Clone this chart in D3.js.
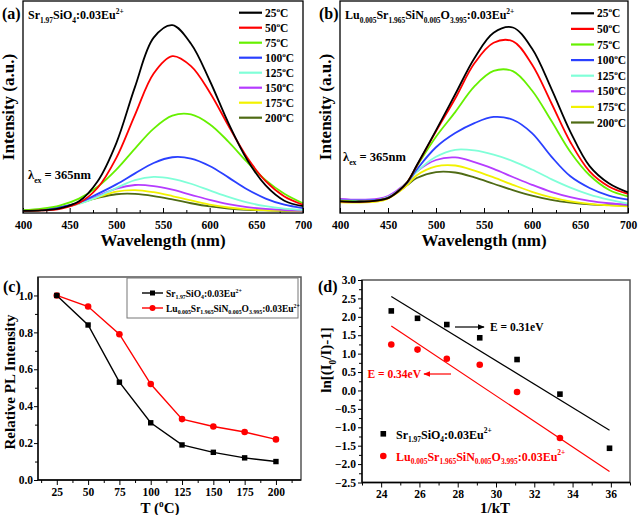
<!DOCTYPE html>
<html><head><meta charset="utf-8">
<script src="https://cdnjs.cloudflare.com/ajax/libs/d3/7.8.5/d3.min.js"></script>
<style>body{margin:0;background:#fff}svg{display:block}</style>
</head><body>
<script>
// ---------- data ----------
const tempLabels = ["25","50","75","100","125","150","175","200"];
const curveColors = ["#000000","#ff0000","#66f000","#2a40ff","#80ffd8","#b53cff","#f2f200","#4f6b14"];

// panel (a) Sr1.97SiO4:0.03Eu2+ emission spectra
const wlA = [400,420,440,460,480,500,520,540,560,580,600,620,640,660,680,700];
const a25  = [1,1.2,2.3,5.5,15,33,59.5,82.7,88.6,79.8,62.5,42.5,25.2,13,5.8,3.2];
const a50  = [1,1.2,2,4.7,11.9,26,46.3,65.8,74,69.3,57,41.3,26.3,15,7.8,3.9];
const a75  = [1.3,2,3.6,6.8,12.4,20.5,30.4,39.8,45.9,46.5,41.9,33.7,24.1,15.5,9.1,4.6];
const a100 = [1.25,1.7,2.8,4.9,9,13.5,18.7,23.6,26.3,25.7,22.2,16.8,11.2,6.8,3.9,2.3];
const a125 = [1.1,1.5,2.4,4.3,7.6,11.8,15.5,17,16.1,13.8,10.7,7.6,5,3.2,2.1,1.5];
const a150 = [1.1,1.5,2.5,4.7,8,11.5,13.2,12.7,11,8.6,6.2,4.2,2.8,1.9,1.4,1.1];
const a175 = [1,1.4,2.4,4.4,7.4,10.1,10.8,9.8,8,5.9,4,2.6,1.7,1.3,1.1,1];
const a200 = [1,1.6,2.75,4.7,7.1,8.85,9,8,6.4,4.6,3.1,2.1,1.5,1.2,1.05,1];

// panel (b) Lu0.005Sr1.965SiN0.005O3.995:0.03Eu2+ emission spectra
const wlB = [400,420,440,450,460,470,480,500,520,540,560,580,600,620,640,660,680,700];
const b25  = [5.5,5.3,6,7,10,14.5,22.5,39,56,73,85,87.5,77.6,58.8,38.3,22.1,14,9.7];
const b50  = [5.5,5.3,6,7,10,14.5,22.3,38.5,54,70.6,80.3,81,70,52,33.4,19.6,12.5,9];
const b75  = [5.8,5.5,6,7,10,14.5,22,36,47.6,59.7,67,66.9,57.8,43.6,28.8,17.8,11,7.8];
const b100 = [6,5.8,6.2,7.2,10,14.2,20.5,31,37.7,42.4,45.3,44,37.7,26.7,17.3,11.8,8.2,6.3];
const b125 = [6,5.8,6.2,7.5,10.3,14.5,19.5,26.5,29.8,29.5,27.5,24.5,20.5,16,12,8.7,6.3,4.4];
const b150 = [6.7,6.3,6.8,8,10.8,14.5,19.5,25,26.2,24,20.8,17,13.3,10,7.5,5.7,4.6,3.9];
const b175 = [5,4.9,5.5,6.8,9.5,13.2,17.8,22,22.4,20,16.8,13.3,10,7.4,5.5,4.3,3.6,3.1];
const b200 = [5.6,5.4,6,7.2,9.8,13.2,16.5,19.3,19.1,16.8,13.8,10.8,8.2,6.2,4.9,4.1,3.7,3.5];

// panel (c) relative PL intensity
const tempC = [25,50,75,100,125,150,175,200];
const relSr = [1.0,0.84,0.53,0.31,0.19,0.15,0.12,0.10];
const relLu = [1.0,0.94,0.79,0.52,0.33,0.29,0.26,0.22];

// panel (d) ln[(I0/I)-1] vs 1/kT
const invKT = [24.53,25.9,27.43,29.15,31.1,33.34,35.93];
const lnSr  = [2.16,1.96,1.79,1.43,0.84,-0.10,-1.57];
const invKTLu = [24.53,25.9,27.43,29.15,31.1,33.34];
const lnLu  = [1.25,1.11,0.86,0.70,-0.04,-1.29];
const fitX  = [24.53,35.93];
const fitSr = [2.55,-1.08];
const fitLu = [1.75,-2.20];

const nameSr = "Sr_{1.97}SiO_{4}:0.03Eu^{2+}";
const nameLu = "Lu_{0.005}Sr_{1.965}SiN_{0.005}O_{3.995}:0.03Eu^{2+}";

// ---------- helpers ----------
const FONT = "'Liberation Serif','Times New Roman',serif";
const svg = d3.select("body").append("svg").attr("width",638).attr("height",515)
  .attr("font-family",FONT).attr("font-weight","bold");

function rich(sel, str, size){
  const re = /([_^])\{([^}]*)\}|([^_^]+)/g;
  let m, shift = 0;
  while ((m = re.exec(str))) {
    if (m[3]) { sel.append("tspan").attr("dy",-shift).attr("font-size",size).text(m[3]); shift = 0; }
    else {
      const d = m[1] === "_" ? 0.3*size : -0.42*size;
      sel.append("tspan").attr("dy",d - shift).attr("font-size",size*0.62).text(m[2]); shift = d;
    }
  }
  return sel;
}
function label(x,y,str,size,opts={}){
  const t = svg.append("text").attr("x",x).attr("y",y)
    .attr("text-anchor",opts.anchor||"start").attr("fill",opts.fill||"#000")
    .attr("font-family",FONT).attr("font-weight","bold");
  if (opts.rotate) t.attr("transform",`rotate(-90,${x},${y})`);
  return rich(t,str,size);
}
function styleAxis(g,size){
  g.attr("font-family",FONT).attr("font-size",size).attr("font-weight","bold");
  g.selectAll("text").attr("font-family",FONT).attr("font-weight","bold").attr("fill","#000");
  g.select(".domain").remove();
  g.selectAll("line").attr("stroke","#000").attr("stroke-width",1);
}

// ---------- spectra panels (a) & (b) ----------
function spectra(x0,x1,wl,series,title,tag,legX,legY,legDy,lambdaPos){
  const x = d3.scaleLinear().domain([400,700]).range([x0,x1]);
  const y = d3.scaleLinear().domain([0,100]).range([213,1]);
  const minor = d3.range(425,700,50);
  const gm = svg.append("g").attr("transform","translate(0,213)")
    .call(d3.axisBottom(x).tickValues(minor).tickSize(-3).tickFormat(""));
  styleAxis(gm,11);
  const g = svg.append("g").attr("transform","translate(0,213)")
    .call(d3.axisBottom(x).tickValues(d3.range(400,701,50)).tickSize(-5).tickPadding(8));
  styleAxis(g,11.5);
  const line = d3.line().x((d,i)=>x(wl[i])).y(d=>y(d)).curve(d3.curveCatmullRom.alpha(0.5));
  series.slice().reverse().forEach((s,k)=>{
    const i = series.length-1-k;
    svg.append("path").attr("d",line(s)).attr("fill","none")
      .attr("stroke",curveColors[i]).attr("stroke-width",1.8);
  });
  svg.append("rect").attr("x",x0).attr("y",1).attr("width",x1-x0).attr("height",212)
    .attr("fill","none").attr("stroke","#000").attr("stroke-width",1.3);
  // legend
  tempLabels.forEach((t,i)=>{
    const yy = legY + i*legDy;
    svg.append("line").attr("x1",legX).attr("x2",legX+23).attr("y1",yy).attr("y2",yy)
      .attr("stroke",curveColors[i]).attr("stroke-width",2.2);
    label(legX+26,yy+4,t+"^{o}C",11.5);
  });
  label(x0-21,19,tag,16);
  label(x0+5,19,title,12);
  label(lambdaPos[0],lambdaPos[1],"λ_{ex} = 365nm",12.5);
  label(x0-9,107,"Intensity (a.u.)",17,{rotate:true,anchor:"middle"});
  label((x0+x1)/2,246,"Wavelength (nm)",17,{anchor:"middle"});
}
spectra(23,303,wlA,[a25,a50,a75,a100,a125,a150,a175,a200],nameSr,"(a)",239,12.7,15.0,[28,179]);
spectra(340,628,wlB,[b25,b50,b75,b100,b125,b150,b175,b200],nameLu,"(b)",571,13.3,15.6,[343,161]);

// ---------- panel (c) ----------
{
  const x = d3.scaleLinear().domain([10,220]).range([38,301]);
  const y = d3.scaleLinear().domain([0,1.1]).range([480,277]);
  svg.append("rect").attr("x",38).attr("y",277).attr("width",263).attr("height",203)
    .attr("fill","none").attr("stroke","#555").attr("stroke-width",1.5);
  const gxm = svg.append("g").attr("transform","translate(0,480)")
    .call(d3.axisBottom(x).tickValues(d3.range(12.5,220,25)).tickSize(3).tickFormat(""));
  styleAxis(gxm,11);
  const gx = svg.append("g").attr("transform","translate(0,480)")
    .call(d3.axisBottom(x).tickValues(tempC).tickSize(5).tickPadding(3));
  styleAxis(gx,11.5);
  const gym = svg.append("g").attr("transform","translate(38,0)")
    .call(d3.axisLeft(y).tickValues(d3.range(0.1,1.1,0.2)).tickSize(3).tickFormat(""));
  styleAxis(gym,11);
  const gy = svg.append("g").attr("transform","translate(38,0)")
    .call(d3.axisLeft(y).tickValues([0,0.2,0.4,0.6,0.8,1.0]).tickSize(4).tickPadding(1).tickFormat(d3.format(".1f")));
  styleAxis(gy,11.5);
  svg.append("line").attr("x1",38).attr("x2",38).attr("y1",277).attr("y2",480).attr("stroke","#000").attr("stroke-width",1.3);
  svg.append("line").attr("x1",38).attr("x2",301).attr("y1",480).attr("y2",480).attr("stroke","#000").attr("stroke-width",1.3);

  const line = d3.line().x((d,i)=>x(tempC[i])).y(d=>y(d));
  svg.append("path").attr("d",line(relLu)).attr("fill","none").attr("stroke","#ff0000").attr("stroke-width",1.4);
  svg.append("path").attr("d",line(relSr)).attr("fill","none").attr("stroke","#000").attr("stroke-width",1.4);
  svg.selectAll(null).data(relLu).enter().append("circle")
    .attr("cx",(d,i)=>x(tempC[i])).attr("cy",d=>y(d)).attr("r",3.3).attr("fill","#ff0000");
  svg.selectAll(null).data(relSr).enter().append("rect")
    .attr("x",(d,i)=>x(tempC[i])-2.7).attr("y",d=>y(d)-2.7).attr("width",5.4).attr("height",5.4).attr("fill","#000");

  // legend
  svg.append("rect").attr("x",127).attr("y",278).attr("width",171).attr("height",40)
    .attr("fill","#fff").attr("stroke","#777").attr("stroke-width",1);
  svg.append("line").attr("x1",142).attr("x2",163).attr("y1",293).attr("y2",293).attr("stroke","#000").attr("stroke-width",1.4);
  svg.append("rect").attr("x",150).attr("y",290.5).attr("width",5).attr("height",5).attr("fill","#000");
  svg.append("line").attr("x1",142).attr("x2",163).attr("y1",308).attr("y2",308).attr("stroke","#ff0000").attr("stroke-width",1.4);
  svg.append("circle").attr("cx",152.5).attr("cy",308).attr("r",3).attr("fill","#ff0000");
  label(166,296.5,nameSr,9.5);
  label(166,311.5,nameLu,9.5);

  label(3,292,"(c)",16);
  label(15,382,"Relative PL Intensity",15,{rotate:true,anchor:"middle"});
  label(160,513,"T (^{o}C)",15,{anchor:"middle"});
}

// ---------- panel (d) ----------
{
  const x = d3.scaleLinear().domain([23,37]).range([362,630]);
  const y = d3.scaleLinear().domain([-2.5,3.0]).range([482.5,280]);
  svg.append("rect").attr("x",362).attr("y",280).attr("width",268).attr("height",202.5)
    .attr("fill","none").attr("stroke","#555").attr("stroke-width",1.5);
  const gxm = svg.append("g").attr("transform","translate(0,482.5)")
    .call(d3.axisBottom(x).tickValues(d3.range(23,38,2)).tickSize(3).tickFormat(""));
  styleAxis(gxm,11);
  const gx = svg.append("g").attr("transform","translate(0,482.5)")
    .call(d3.axisBottom(x).tickValues(d3.range(24,37,2)).tickSize(5).tickPadding(2.5));
  styleAxis(gx,11.5);
  const gym = svg.append("g").attr("transform","translate(362,0)")
    .call(d3.axisLeft(y).tickValues(d3.range(-2.25,3,0.5)).tickSize(3).tickFormat(""));
  styleAxis(gym,11);
  const gy = svg.append("g").attr("transform","translate(362,0)")
    .call(d3.axisLeft(y).tickValues(d3.range(-2.5,3.01,0.5)).tickSize(4).tickPadding(2).tickFormat(d3.format(".1f")));
  styleAxis(gy,11.5);
  svg.append("line").attr("x1",362).attr("x2",362).attr("y1",280).attr("y2",482.5).attr("stroke","#000").attr("stroke-width",1.3);
  svg.append("line").attr("x1",362).attr("x2",630).attr("y1",482.5).attr("y2",482.5).attr("stroke","#000").attr("stroke-width",1.3);

  const line = d3.line().x((d,i)=>x(fitX[i])).y(d=>y(d));
  svg.append("path").attr("d",line(fitSr)).attr("stroke","#000").attr("stroke-width",1.2).attr("fill","none");
  svg.append("path").attr("d",line(fitLu)).attr("stroke","#ff0000").attr("stroke-width",1.2).attr("fill","none");
  svg.selectAll(null).data(lnSr).enter().append("rect")
    .attr("x",(d,i)=>x(invKT[i])-2.8).attr("y",d=>y(d)-2.8).attr("width",5.6).attr("height",5.6).attr("fill","#000");
  svg.selectAll(null).data(lnLu).enter().append("circle")
    .attr("cx",(d,i)=>x(invKTLu[i])).attr("cy",d=>y(d)).attr("r",3.3).attr("fill","#ff0000");

  // annotations
  const defs = svg.append("defs");
  [["ahB","#000"],["ahR","#ff0000"]].forEach(([id,c])=>{
    defs.append("marker").attr("id",id).attr("viewBox","0 0 10 10").attr("refX",9).attr("refY",5)
      .attr("markerWidth",6).attr("markerHeight",6).attr("orient","auto")
      .append("path").attr("d","M0,1L10,5L0,9Z").attr("fill",c);
  });
  svg.append("line").attr("x1",455).attr("x2",484).attr("y1",327).attr("y2",327)
    .attr("stroke","#000").attr("stroke-width",1.2).attr("marker-end","url(#ahB)");
  label(490,331,"E = 0.31eV",11.5);
  svg.append("line").attr("x1",451).attr("x2",424).attr("y1",374).attr("y2",374)
    .attr("stroke","#ff0000").attr("stroke-width",1.2).attr("marker-end","url(#ahR)");
  label(421,378,"E = 0.34eV",11.5,{anchor:"end",fill:"#ff0000"});

  // legend
  svg.append("rect").attr("x",380.5).attr("y",431).attr("width",5.6).attr("height",5.6).attr("fill","#000");
  label(396,438.5,nameSr,12);
  svg.append("circle").attr("cx",383.3).attr("cy",456).attr("r",3.3).attr("fill","#ff0000");
  label(396,460.5,nameLu,12,{fill:"#ff0000"});

  label(318,292,"(d)",16);
  label(331,360,"ln[(I_{0}/I)-1]",15,{rotate:true,anchor:"middle"});
  label(495,513,"1/kT",15,{anchor:"middle"});
}
</script>
</body></html>
